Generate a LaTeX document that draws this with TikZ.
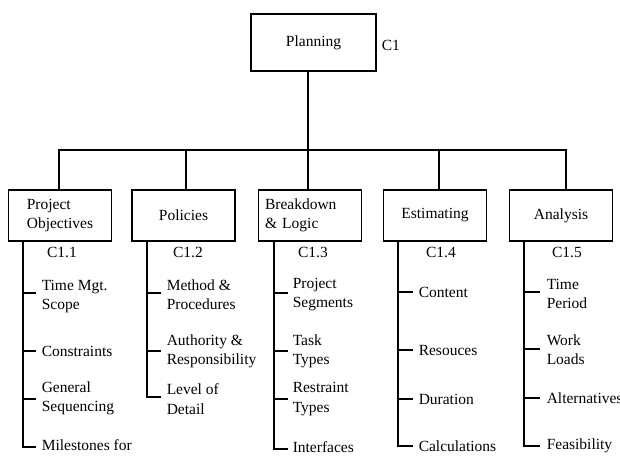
\documentclass[tikz,border=0pt]{standalone}
\usepackage{fontspec}
\setmainfont{Liberation Serif}
\newcommand\dgfont{\fontsize{15.5}{19.5}\selectfont}
\begin{document}
\begin{tikzpicture}[x=1pt,y=-1pt,line width=1.5pt,
  box/.style={draw,minimum width=103pt,minimum height=51pt,inner sep=2pt,align=left,font=\dgfont},
  item/.style={anchor=west,align=left,inner sep=0pt,font=\dgfont},
  code/.style={inner sep=0pt,font=\dgfont}]
\useasboundingbox (0,0) rectangle (620,456);
\clip (0,0) rectangle (620,456);
% top
\node[box,minimum width=125pt,minimum height=57pt] (P) at (313.5,42.5) {Planning};
\node[code,anchor=west] (c1) at (381,45) {C1};
\coordinate (b1) at (59,150);
\coordinate (b2) at (186,150);
\coordinate (b3) at (308,150);
\coordinate (b4) at (439,150);
\coordinate (b5) at (566,150);
% second level
\node[box] (n1) at (60,215.5) {Project\\Objectives};
\node[box] (n2) at (183.5,215.5) {Policies};
\node[box,text width=90pt] (n3) at (310,215.5) {Breakdown\\\& Logic};
\node[box] (n4) at (435,215.5) {Estimating};
\node[box] (n5) at (561,215.5) {Analysis};
\node[code] (c11) at (62,252) {C1.1};
\node[code] (c12) at (188,252) {C1.2};
\node[code] (c13) at (313,252) {C1.3};
\node[code] (c14) at (441,252) {C1.4};
\node[code] (c15) at (567,252) {C1.5};
% bus
\draw (P.south -| b3) -- (b3);
\draw (b1 |- n1.north) -- (b1) -- (b5) -- (b5 |- n5.north);
\draw (b2) -- (b2 |- n2.north);
\draw (b3) -- (b3 |- n3.north);
\draw (b4) -- (b4 |- n4.north);
% items column 1
\node[item] (i11) at (41,296.5) {Time Mgt.\\Scope};
\node[item] (i12) at (41,351) {Constraints};
\node[item] (i13) at (41,398.5) {General\\Sequencing};
\node[item] (i14) at (41,454.75) {Milestones for\\Control};
\coordinate (s1) at (23,447);
\draw (n1.south -| s1) -- (s1) -- ++(13,0);
\draw (23,293) -- ++(13,0);
\draw (23,351) -- ++(13,0);
\draw (23,399) -- ++(13,0);
% items column 2
\node[item] (i21) at (166,294.5) {Method \&\\Procedures};
\node[item] (i22) at (166,351.5) {Authority \&\\Responsibility};
\node[item] (i23) at (166,399) {Level of\\Detail};
\coordinate (s2) at (147,397);
\draw (n2.south -| s2) -- (s2) -- ++(14,0);
\draw (147,293) -- ++(14,0);
\draw (147,351) -- ++(14,0);
% items column 3
\node[item] (i31) at (292,294.5) {Project\\Segments};
\node[item] (i32) at (292,351.5) {Task\\Types};
\node[item] (i33) at (292,399) {Restraint\\Types};
\node[item] (i34) at (292,447) {Interfaces};
\coordinate (s3) at (274,449);
\draw (n3.south -| s3) -- (s3) -- ++(14,0);
\draw (274,293) -- ++(14,0);
\draw (274,351) -- ++(14,0);
\draw (274,399) -- ++(14,0);
% items column 4
\node[item] (i41) at (418,292) {Content};
\node[item] (i42) at (418,350) {Resouces};
\node[item] (i43) at (418,399) {Duration};
\node[item] (i44) at (418,446) {Calculations};
\coordinate (s4) at (398,446);
\draw (n4.south -| s4) -- (s4) -- ++(15,0);
\draw (398,292) -- ++(15,0);
\draw (398,350) -- ++(15,0);
\draw (398,399) -- ++(15,0);
% items column 5
\node[item] (i51) at (546,294) {Time\\Period};
\node[item] (i52) at (546,349.5) {Work\\Loads};
\node[item] (i53) at (546,398) {Alternatives};
\node[item] (i54) at (546,446) {Feasibility};
\coordinate (s5) at (524,446);
\draw (n5.south -| s5) -- (s5) -- ++(16,0);
\draw (524,292) -- ++(16,0);
\draw (524,349) -- ++(16,0);
\draw (524,398) -- ++(16,0);
\end{tikzpicture}
\end{document}
